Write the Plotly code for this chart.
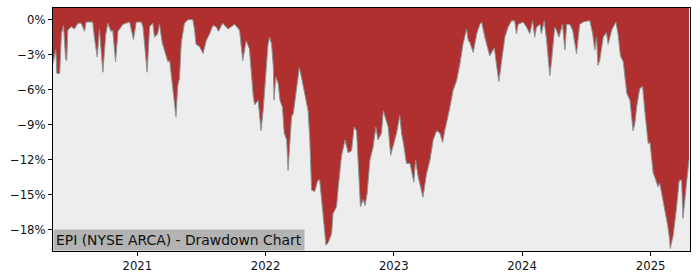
import plotly.graph_objects as go

dates = [
    "2020-05-06", "2020-05-14", "2020-05-17", "2020-05-25", "2020-05-30", "2020-06-05", "2020-06-11",
    "2020-06-14", "2020-06-17", "2020-06-27", "2020-07-06", "2020-07-16", "2020-07-25", "2020-08-04",
    "2020-08-08", "2020-08-27", "2020-09-01", "2020-09-09", "2020-09-15", "2020-09-25", "2020-10-03",
    "2020-10-09", "2020-10-18", "2020-10-23", "2020-10-31", "2020-11-07", "2020-11-21", "2020-12-10",
    "2020-12-21", "2020-12-29", "2021-01-12", "2021-01-17", "2021-01-29", "2021-02-05", "2021-02-14",
    "2021-02-19", "2021-02-28", "2021-03-05", "2021-03-13", "2021-03-19", "2021-03-29", "2021-04-03",
    "2021-04-10", "2021-04-17", "2021-04-21", "2021-04-26", "2021-05-01", "2021-05-06", "2021-05-15",
    "2021-05-25", "2021-06-08", "2021-06-13", "2021-06-17", "2021-06-27", "2021-07-07", "2021-07-16",
    "2021-07-26", "2021-08-04", "2021-08-13", "2021-08-20", "2021-09-01", "2021-09-16", "2021-10-05",
    "2021-10-19", "2021-10-23", "2021-10-28", "2021-11-07", "2021-11-16", "2021-11-27", "2021-12-01",
    "2021-12-11", "2021-12-19", "2021-12-25", "2021-12-30", "2022-01-04", "2022-01-08", "2022-01-13",
    "2022-01-18", "2022-01-23", "2022-01-25", "2022-01-30", "2022-02-06", "2022-02-11", "2022-02-18",
    "2022-02-23", "2022-03-02", "2022-03-06", "2022-03-11", "2022-03-16", "2022-03-21", "2022-03-30",
    "2022-04-07", "2022-04-13", "2022-04-23", "2022-05-02", "2022-05-07", "2022-05-12", "2022-05-21",
    "2022-05-29", "2022-06-04", "2022-06-09", "2022-06-14", "2022-06-22", "2022-06-28", "2022-07-08",
    "2022-07-12", "2022-07-22", "2022-07-27", "2022-08-05", "2022-08-15", "2022-08-19", "2022-08-24",
    "2022-09-03", "2022-09-10", "2022-09-17", "2022-09-21", "2022-09-28", "2022-10-06", "2022-10-11",
    "2022-10-17", "2022-10-25", "2022-11-03", "2022-11-11", "2022-11-17", "2022-11-27", "2022-12-02",
    "2022-12-09", "2022-12-16", "2022-12-23", "2022-12-30", "2023-01-09", "2023-01-18", "2023-01-23",
    "2023-01-30", "2023-02-06", "2023-02-16", "2023-02-23", "2023-02-27", "2023-03-04", "2023-03-11",
    "2023-03-18", "2023-03-25", "2023-04-04", "2023-04-14", "2023-04-23", "2023-05-03", "2023-05-12",
    "2023-05-20", "2023-05-26", "2023-06-05", "2023-06-09", "2023-06-19", "2023-06-29", "2023-07-08",
    "2023-07-17", "2023-07-27", "2023-08-01", "2023-08-05", "2023-08-15", "2023-08-25", "2023-09-03",
    "2023-09-08", "2023-09-17", "2023-10-01", "2023-10-14", "2023-10-20", "2023-10-27", "2023-11-04",
    "2023-11-13", "2023-11-22", "2023-12-02", "2023-12-11", "2023-12-16", "2023-12-21", "2024-01-04",
    "2024-01-14", "2024-01-23", "2024-01-31", "2024-02-06", "2024-02-11", "2024-02-21", "2024-02-25",
    "2024-03-04", "2024-03-11", "2024-03-17", "2024-03-20", "2024-03-25", "2024-04-03", "2024-04-08",
    "2024-04-15", "2024-04-25", "2024-05-02", "2024-05-07", "2024-05-16", "2024-05-24", "2024-06-04",
    "2024-06-13", "2024-06-23", "2024-07-07", "2024-07-12", "2024-07-20", "2024-07-26", "2024-07-31",
    "2024-08-04", "2024-08-09", "2024-08-19", "2024-08-28", "2024-09-02", "2024-09-12", "2024-09-24",
    "2024-09-30", "2024-10-07", "2024-10-15", "2024-10-25", "2024-11-03", "2024-11-12", "2024-11-17",
    "2024-11-22", "2024-12-01", "2024-12-09", "2024-12-15", "2024-12-20", "2024-12-25", "2024-12-30",
    "2025-01-03", "2025-01-08", "2025-01-13", "2025-01-22", "2025-01-27", "2025-02-05", "2025-02-10",
    "2025-02-19", "2025-02-24", "2025-02-26", "2025-03-02", "2025-03-06", "2025-03-16", "2025-03-23",
    "2025-03-30", "2025-04-03", "2025-04-08", "2025-04-15", "2025-04-20",
]

drawdown_pct = [
    -3.75, -2.6, -4.6, -4.6, -1.2, -0.5, -3.4,
    -3.5, -0.9, -0.6, -0.8, -0.3, -0.3, -1.0,
    -0.2, -0.2, -1.6, -3.2, -0.8, -4.5, -1.3,
    -0.3, -1.0, -0.9, -3.6, -1.0, -0.4, -0.2,
    -1.7, -0.2, -0.2, -0.6, -4.5, -0.6, -0.3,
    -1.5, -1.2, -0.4, -2.0, -2.6, -3.6, -3.5,
    -5.2, -6.9, -8.3, -5.7, -5.0, -2.0, -0.3,
    0.0, 0.0, -0.9, -2.1, -2.3, -2.9, -1.8,
    -1.2, -0.5, -0.6, -1.0, -0.3, -0.8, -0.4,
    -0.9, -2.1, -3.5, -1.8, -2.5, -6.6, -7.3,
    -6.9, -9.5, -7.8, -5.5, -4.0, -2.1, -1.5,
    -2.1, -4.0, -6.9, -4.9, -5.5, -6.9, -7.5,
    -9.7, -10.3, -12.9, -10.3, -8.3, -8.0, -5.8,
    -4.1, -4.9, -6.3, -7.8, -10.3, -14.6, -14.7,
    -13.8, -13.7, -15.1, -17.1, -19.3, -19.1, -18.3,
    -16.6, -16.0, -14.3, -11.7, -10.3, -10.9, -11.4,
    -11.2, -9.2, -9.5, -12.0, -16.0, -15.4, -15.9,
    -14.9, -12.0, -10.9, -9.2, -10.3, -9.7, -7.8,
    -8.6, -9.2, -11.6, -10.9, -9.7, -8.2, -9.7,
    -10.9, -12.3, -12.3, -13.2, -13.9, -12.0, -13.4,
    -14.3, -15.2, -13.2, -12.0, -10.3, -9.5, -9.7,
    -10.5, -9.5, -8.3, -7.6, -6.0, -5.2, -3.8,
    -2.1, -0.8, -1.8, -1.9, -2.8, -1.2, -0.4,
    -0.2, -1.5, -3.1, -2.4, -3.8, -5.3, -3.5,
    -1.5, -0.65, -0.1, -0.1, -1.2, -0.4, -0.2,
    -0.65, -1.2, -0.1, -1.5, -0.65, -0.4, -1.2,
    -0.1, -1.8, -4.2, -4.8, -3.5, -0.65, -0.9,
    -1.5, -0.4, -2.6, -0.4, -0.4, -0.9, -2.9,
    -0.4, -0.2, -0.1, -0.1, -1.2, -2.6, -1.5,
    -3.9, -3.5, -1.5, -1.1, -2.1, -0.9, -0.2,
    -1.2, -3.1, -3.6, -6.3, -6.9, -9.5, -8.9,
    -7.5, -5.9, -5.7, -7.7, -9.1, -10.6, -10.5,
    -12.0, -13.1, -13.5, -14.3, -14.0, -15.4, -16.5,
    -17.7, -18.8, -19.6, -19.0, -18.5, -16.0, -13.8,
    -13.7, -17.0, -15.5, -13.2, -12.0,
]

y_tick_vals = [-18, -15, -12, -9, -6, -3, 0]
y_tick_text = ["\u221218%", "\u221215%", "\u221212%", "\u22129%", "\u22126%", "\u22123%", "0%"]
x_tick_vals = ["2021-01-01", "2022-01-01", "2023-01-01", "2024-01-01", "2025-01-01"]
x_tick_text = ["2021", "2022", "2023", "2024", "2025"]

Y_TOP = 1.0
Y_BOTTOM = -19.8
X_RANGE = ["2020-05-06", "2025-04-23"]
TITLE = "EPI (NYSE ARCA) - Drawdown Chart"

fig = go.Figure()
fig.add_trace(go.Scatter(
    x=dates, y=[Y_TOP] * len(dates), mode="lines",
    line=dict(width=0, color="rgba(0,0,0,0)"), hoverinfo="skip", showlegend=False,
))
fig.add_trace(go.Scatter(
    x=dates, y=drawdown_pct, mode="lines", fill="tonexty",
    fillcolor="#b03030", line=dict(color="#8c9494", width=1), showlegend=False,
))

fig.add_annotation(
    text=TITLE, xref="paper", yref="paper", x=0, y=0, xanchor="left", yanchor="bottom",
    showarrow=False, bgcolor="#b3b3b3", borderpad=2,
    font=dict(family="DejaVu Sans", size=13.9, color="#111111"),
)

fig.update_layout(
    width=700, height=280,
    margin=dict(l=53, r=10, t=7, b=28),
    paper_bgcolor="white", plot_bgcolor="#ededed",
    font=dict(family="DejaVu Sans", size=11.7, color="#111111"),
    showlegend=False,
)
fig.update_xaxes(
    type="date", range=X_RANGE, tickvals=x_tick_vals, ticktext=x_tick_text,
    showgrid=False, zeroline=False, showline=True, linecolor="black", linewidth=1, mirror=True,
    ticks="outside", ticklen=4, tickcolor="black",
)
fig.update_yaxes(
    range=[Y_BOTTOM, Y_TOP], tickvals=y_tick_vals, ticktext=y_tick_text,
    showgrid=False, zeroline=False, showline=True, linecolor="black", linewidth=1, mirror=True,
    ticks="outside", ticklen=4, tickcolor="black",
)

fig.write_html("out.html")
